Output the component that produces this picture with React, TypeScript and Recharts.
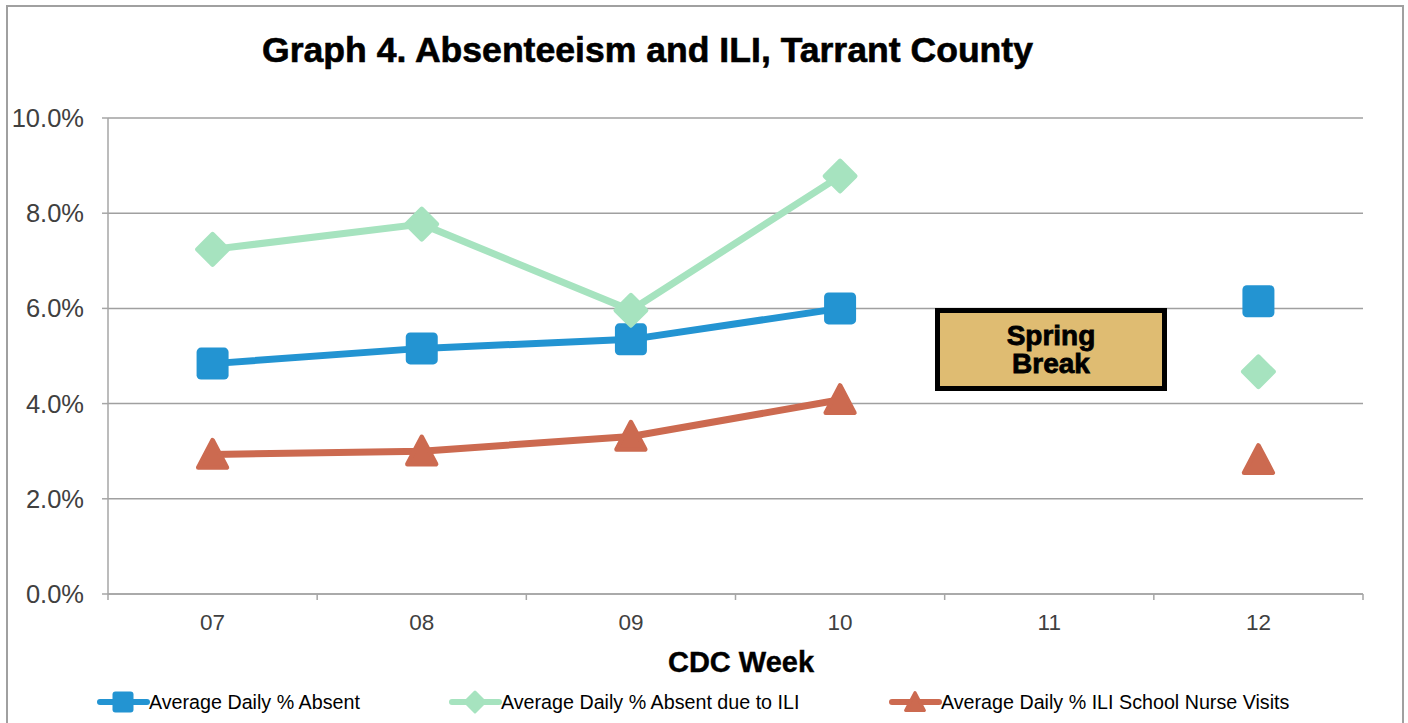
import { CartesianGrid, Line, LineChart, XAxis, YAxis } from "recharts";

const weeks = ["07", "08", "09", "10", "11", "12"];
const absent = [4.84, 5.16, 5.35, 6.0, null, 6.15];
const absentIli = [7.24, 7.77, 5.96, 8.78, null, 4.67];
const nurseVisits = [2.93, 3.0, 3.31, 4.08, null, 2.82];
const yTicks = [0, 2, 4, 6, 8, 10];

const SERIES = [
  { key: "absent", name: "Average Daily % Absent", color: "#2394D2", shape: "square" },
  { key: "absentIli", name: "Average Daily % Absent due to ILI", color: "#A6E3BF", shape: "diamond" },
  { key: "nurseVisits", name: "Average Daily % ILI School Nurse Visits", color: "#CC6A50", shape: "triangle" }
];

const data = weeks.map((week, i) => ({
  week,
  absent: absent[i],
  absentIli: absentIli[i],
  nurseVisits: nurseVisits[i]
}));

const FONT = '"Liberation Sans", Arial, sans-serif';
const PLOT_LEFT = 108;
const PLOT_RIGHT = 1363;
const BAND = (PLOT_RIGHT - PLOT_LEFT) / weeks.length;
const AXIS_GRAY = "#A6A6A6";
const LABEL_GRAY = "#404040";

function Marker({ shape, cx, cy, color, size }: any) {
  if (cx == null || cy == null) return <g />;
  const h = size / 2;
  if (shape === "square") {
    return <rect x={cx - h} y={cy - h} width={size} height={size} rx={size * 0.14} fill={color} />;
  }
  if (shape === "diamond") {
    const d = h * 0.95;
    return (
      <polygon
        points={`${cx},${cy - d} ${cx + d},${cy} ${cx},${cy + d} ${cx - d},${cy}`}
        fill={color}
        stroke={color}
        strokeWidth={size * 0.14}
        strokeLinejoin="round"
      />
    );
  }
  const t = h * 0.9;
  return (
    <polygon
      points={`${cx},${cy - t} ${cx + t},${cy + t * 0.9} ${cx - t},${cy + t * 0.9}`}
      fill={color}
      stroke={color}
      strokeWidth={size * 0.14}
      strokeLinejoin="round"
    />
  );
}

function WeekTick({ x, y, payload, index, visibleTicksCount }: any) {
  const axisY = y - 8;
  const left = x - BAND / 2;
  const right = x + BAND / 2;
  return (
    <g>
      <line x1={left} y1={axisY} x2={left} y2={axisY + 6} stroke={AXIS_GRAY} strokeWidth={1.5} />
      {index === visibleTicksCount - 1 && (
        <line x1={right} y1={axisY} x2={right} y2={axisY + 6} stroke={AXIS_GRAY} strokeWidth={1.5} />
      )}
      <text x={x} y={y + 28} textAnchor="middle" fill={LABEL_GRAY} fontSize={22.5} fontFamily={FONT}>
        {payload.value}
      </text>
    </g>
  );
}

function PercentTick({ x, y, payload }: any) {
  return (
    <text x={x} y={y + 9} textAnchor="end" fill={LABEL_GRAY} fontSize={25.5} fontFamily={FONT}>
      {payload.value.toFixed(1) + "%"}
    </text>
  );
}

function LegendRow() {
  const starts = [100, 452, 892];
  return (
    <svg width={1408} height={30} style={{ position: "absolute", left: 0, top: 687 }}>
      {SERIES.map((s, i) => (
        <g key={s.key}>
          <line x1={starts[i]} y1={15} x2={starts[i] + 47} y2={15} stroke={s.color} strokeWidth={6} strokeLinecap="round" />
          <Marker shape={s.shape} cx={starts[i] + 23} cy={15} color={s.color} size={21} />
          <text x={starts[i] + 49} y={22} fontSize={19.7} fontFamily={FONT} fill="#000">
            {s.name}
          </text>
        </g>
      ))}
    </svg>
  );
}

export default function App() {
  return (
    <div
      style={{
        position: "absolute",
        left: 0,
        top: 0,
        width: 1408,
        height: 723,
        overflow: "hidden",
        background: "#fff",
        fontFamily: FONT
      }}
    >
      <div
        style={{
          position: "absolute",
          left: 6,
          top: 5,
          width: 1398,
          height: 800,
          border: "2px solid #A0A0A0",
          boxSizing: "border-box"
        }}
      />
      <div
        style={{
          position: "absolute",
          left: 262,
          top: 30,
          fontSize: 35.6,
          fontWeight: "bold",
          whiteSpace: "nowrap",
          color: "#000",
          WebkitTextStroke: "0.6px #000"
        }}
      >
        Graph 4. Absenteeism and ILI, Tarrant County
      </div>
      <div style={{ position: "absolute", left: 0, top: 0 }}>
        <LineChart
          width={1408}
          height={723}
          data={data}
          margin={{ top: 118, right: 1408 - PLOT_RIGHT, bottom: 99, left: 0 }}
        >
          <CartesianGrid vertical={false} stroke="#A0A0A0" strokeWidth={1.5} />
          <XAxis
            dataKey="week"
            height={30}
            padding={{ left: BAND / 2, right: BAND / 2 }}
            tickLine={false}
            tickSize={6}
            tickMargin={2}
            axisLine={{ stroke: AXIS_GRAY, strokeWidth: 1.5 }}
            tick={<WeekTick />}
            interval={0}
          />
          <YAxis
            width={PLOT_LEFT}
            domain={[0, 10]}
            ticks={yTicks}
            tick={<PercentTick />}
            tickLine={{ stroke: AXIS_GRAY, strokeWidth: 1.5 }}
            tickSize={6}
            tickMargin={18}
            axisLine={{ stroke: AXIS_GRAY, strokeWidth: 1.5 }}
          />
          {SERIES.map(s => (
            <Line
              key={s.key}
              dataKey={s.key}
              name={s.name}
              stroke={s.color}
              strokeWidth={7}
              strokeLinecap="round"
              isAnimationActive={false}
              dot={(p: any) => <Marker key={p.index} shape={s.shape} cx={p.cx} cy={p.cy} color={s.color} size={32} />}
              activeDot={false}
            />
          ))}
        </LineChart>
      </div>
      <div
        style={{
          position: "absolute",
          left: 935,
          top: 308,
          width: 232,
          height: 83,
          border: "5px solid #000",
          background: "#DFBC72",
          boxSizing: "border-box",
          display: "flex",
          alignItems: "center",
          justifyContent: "center",
          textAlign: "center",
          fontSize: 28,
          lineHeight: "28px",
          fontWeight: 900,
          color: "#000",
          WebkitTextStroke: "0.8px #000"
        }}
      >
        Spring
        <br />
        Break
      </div>
      <div
        style={{
          position: "absolute",
          left: 0,
          top: 646,
          width: 2 * 741,
          textAlign: "center",
          fontSize: 29,
          fontWeight: "bold",
          color: "#000",
          WebkitTextStroke: "0.4px #000"
        }}
      >
        CDC Week
      </div>
      <LegendRow />
    </div>
  );
}
